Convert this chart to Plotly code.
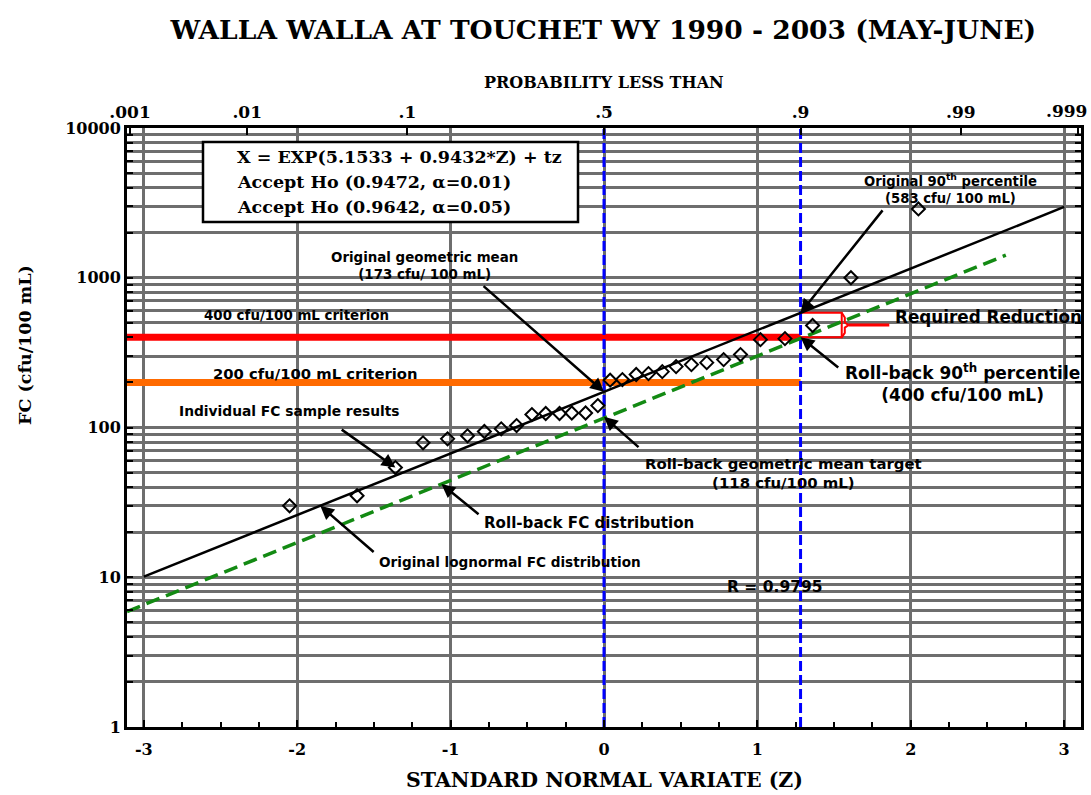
import numpy as np
import plotly.graph_objects as go
from statistics import NormalDist

# ---- data -------------------------------------------------------------
# Individual fecal coliform results, ranked, with their standard normal variate
sample_z = [-2.05, -1.61, -1.36, -1.18, -1.02, -0.89, -0.78, -0.67, -0.57, -0.47,
            -0.38, -0.29, -0.21, -0.12, -0.04, 0.04, 0.12, 0.21, 0.29, 0.38,
            0.47, 0.57, 0.67, 0.78, 0.89, 1.02, 1.18, 1.36, 1.61, 2.05]
sample_fc = [30, 35, 54, 79, 84, 88, 94, 98, 103, 122,
             124, 124, 125, 125, 140, 207, 209, 226, 229, 236,
             255, 263, 271, 284, 307, 386, 392, 480, 1000, 2880]

# Fitted lognormal distribution (end points of the line)
orig_fit_z = [-3.0, 3.0]
orig_fit_fc = [10.1, 2970]

# Roll-back distribution (parallel line through the target geometric mean)
rollback_z = [-3.11, 2.62]
rollback_fc = [5.9, 1415]

# Reference values
orig_geomean = 173
orig_p90 = 583
rollback_geomean = 118
rollback_p90 = 400
criteria_fc = [400, 200]
criteria_colors = ["#ff0000", "#ff6a00"]

# Probability scale along the top
prob_values = [0.001, 0.01, 0.1, 0.5, 0.9, 0.99, 0.999]
prob_labels = [".001", ".01", ".1", ".5", ".9", ".99", ".999"]

z_ticks = [-3, -2, -1, 0, 1, 2, 3]
z_range = [-3.11, 3.11]
fc_decades = [1, 10, 100, 1000, 10000]

# ---- derived positions ---------------------------------------------------
nd = NormalDist()
prob_z = [nd.inv_cdf(p) for p in prob_values]
z50 = nd.inv_cdf(0.5)
z90 = nd.inv_cdf(0.9)

fc_tickvals = [m * d for d in fc_decades[:-1] for m in range(1, 10)] + [fc_decades[-1]]
fc_ticktext = [str(v) if v in fc_decades else "" for v in fc_tickvals]

SERIF = "DejaVu Serif"
SANS = "DejaVu Sans"
GRID = "#6e6e6e"

fig = go.Figure()

# Criterion lines
for fc, col in zip(criteria_fc, criteria_colors):
    fig.add_trace(go.Scatter(x=[z_range[0], z90], y=[fc, fc], mode="lines",
                             line=dict(color=col, width=7), hoverinfo="skip"))

# Required reduction box and brace
zb = 1.55
fig.add_trace(go.Scatter(x=[z90, zb, zb, z90], y=[orig_p90, orig_p90, rollback_p90, rollback_p90],
                         mode="lines", line=dict(color="#ff0000", width=2), hoverinfo="skip"))
mid = np.sqrt(orig_p90 * rollback_p90)
brace_z = [zb, zb + 0.02, zb + 0.02, zb + 0.045, zb + 0.02, zb + 0.02, zb]
brace_fc = [orig_p90, orig_p90 * 0.93, mid * 1.04, mid, mid / 1.04, rollback_p90 * 1.07, rollback_p90]
fig.add_trace(go.Scatter(x=brace_z, y=brace_fc, mode="lines",
                         line=dict(color="#ff0000", width=2), hoverinfo="skip"))
fig.add_trace(go.Scatter(x=[zb + 0.045, 1.86], y=[mid, mid], mode="lines",
                         line=dict(color="#ff0000", width=3), hoverinfo="skip"))

# Vertical markers at the 50th and 90th percentile
for zv in [z50, z90]:
    fig.add_trace(go.Scatter(x=[zv, zv], y=[fc_decades[0], fc_decades[-1]], mode="lines",
                             line=dict(color="#0000ff", width=3, dash="10px,4px"), hoverinfo="skip"))

# Distributions
fig.add_trace(go.Scatter(x=orig_fit_z, y=orig_fit_fc, mode="lines",
                         line=dict(color="black", width=2.5), hoverinfo="skip"))
fig.add_trace(go.Scatter(x=rollback_z, y=rollback_fc, mode="lines",
                         line=dict(color="#138a13", width=3.5, dash="14px,7px"), hoverinfo="skip"))

# Sample results
fig.add_trace(go.Scatter(x=sample_z, y=sample_fc, mode="markers",
                         marker=dict(symbol="diamond-open", size=10, color="black",
                                     line=dict(width=2, color="black"))))

lg = np.log10
annotations = []


def label(text, z, logy, size=13, xanchor="center"):
    annotations.append(dict(x=z, y=logy, xref="x", yref="y", text=text, showarrow=False,
                            xanchor=xanchor, yanchor="middle", align="center",
                            font=dict(family=SANS, size=size, color="black", weight="bold")))


def arrow(z_head, fc_head, z_tail, logy_tail):
    annotations.append(dict(x=z_head, y=lg(fc_head), xref="x", yref="y",
                            ax=z_tail, ay=logy_tail, axref="x", ayref="y",
                            text="", showarrow=True, arrowhead=2, arrowsize=1.1,
                            arrowwidth=2.5, arrowcolor="black", standoff=0))


def rollback_at(z):
    return 10 ** np.interp(z, rollback_z, lg(rollback_fc))


def orig_at(z):
    return 10 ** np.interp(z, orig_fit_z, lg(orig_fit_fc))


label("Original geometric mean<br>(173 cfu/ 100 mL)", -1.17, 3.08, size=13.4)
arrow(z50, orig_geomean, -0.795, 2.953)

label("Original 90<sup>th</sup> percentile<br>(583 cfu/ 100 mL)", 2.26, 3.593, size=13.2)
arrow(z90, orig_p90, 1.824, 3.46)

label("400 cfu/100 mL criterion", -2.003, 2.747, size=13.4)
label("200 cfu/100 mL criterion", -1.883, 2.36, size=14.8)
label("Required Reduction", 1.883, 2.74, size=16.8, xanchor="left")

label("Roll-back 90<sup>th</sup> percentile<br>(400 cfu/100 mL)", 2.335, 2.30, size=17)
arrow(z90, rollback_p90, 1.537, 2.393)

label("Individual FC sample results", -2.052, 2.113, size=13.8)
arrow(sample_z[2], sample_fc[2], -1.72, 1.993)

label("Roll-back geometric mean target<br>(118 cfu/100 mL)", 1.169, 1.693, size=14.9)
arrow(z50, rollback_geomean, 0.235, 1.86)

label("Roll-back FC distribution", -0.101, 1.36, size=15.1)
arrow(-1.06, rollback_at(-1.06), -0.808, 1.413)

label("Original lognormal FC distribution", -0.612, 1.10, size=13.6)
arrow(-1.85, orig_at(-1.85), -1.492, 1.16)

label("R = 0.9795", 1.114, 0.933, size=15.5)

# Equation / test box
box_font = dict(family=SERIF, size=17.5, color="black", weight="bold")
box_lines = ["X = EXP(5.1533 + 0.9432*Z) + tz",
             "Accept Ho (0.9472, \u03b1=0.01)",
             "Accept Ho (0.9642, \u03b1=0.05)"]
for i, t in enumerate(box_lines):
    annotations.append(dict(x=(235 - 127) / 954, y=(727 - 157 - i * 25) / 599,
                            xref="paper", yref="paper",
                            text=t, showarrow=False, xanchor="left", yanchor="middle",
                            font=box_font))

# Last probability label sits at the right edge of the page; keep it inside
top_font = dict(family=SERIF, size=17, color="black", weight="bold")
top_ticktext = prob_labels[:-1] + [""]
annotations.append(dict(x=1.0, y=1.0, xref="paper", yref="paper", text=prob_labels[-1],
                        showarrow=False, xanchor="right", yanchor="bottom", yshift=5,
                        xshift=8, font=top_font))

# Axis titles
annotations.append(dict(x=(604 - 127) / 954, y=(727 - 82) / 599, xref="paper", yref="paper",
                        text="PROBABILITY LESS THAN", showarrow=False,
                        xanchor="center", yanchor="middle",
                        font=dict(family=SERIF, size=16, color="black", weight="bold")))
annotations.append(dict(x=(604 - 127) / 954, y=(727 - 780) / 599, xref="paper", yref="paper",
                        text="STANDARD NORMAL VARIATE (Z)", showarrow=False,
                        xanchor="center", yanchor="middle",
                        font=dict(family=SERIF, size=20.5, color="black", weight="bold")))
annotations.append(dict(x=(25 - 127) / 954, y=(727 - 345) / 599, xref="paper", yref="paper",
                        text="FC (cfu/100 mL)", showarrow=False, textangle=-90,
                        xanchor="center", yanchor="middle",
                        font=dict(family=SERIF, size=17.5, color="black", weight="bold")))

shapes = [dict(type="rect", xref="paper", yref="paper",
               x0=(203 - 127) / 954, x1=(578 - 127) / 954,
               y0=(727 - 222) / 599, y1=(727 - 142) / 599,
               line=dict(color="black", width=2.5), fillcolor="white", layer="above")]

fig.update_layout(
    width=1091, height=795,
    margin=dict(l=127, r=10, t=128, b=68, autoexpand=False),
    plot_bgcolor="white", paper_bgcolor="white",
    showlegend=False,
    title=dict(text="WALLA WALLA AT TOUCHET WY 1990 - 2003 (MAY-JUNE)",
               x=0.553, xanchor="center", y=0.962, yanchor="middle",
               font=dict(family=SERIF, size=26.5, color="black", weight="bold")),
    annotations=annotations,
    shapes=shapes,
    xaxis=dict(range=z_range, tickvals=z_ticks, ticktext=[str(v) for v in z_ticks],
               automargin=False,
               showline=True, linecolor="black", linewidth=3, mirror=False,
               ticks="inside", ticklen=7, tickwidth=2, tickcolor="black", ticklabelstandoff=6,
               minor=dict(dtick=0.25, ticks="inside", ticklen=5, tickwidth=2, showgrid=False),
               showgrid=True, gridcolor=GRID, gridwidth=3, zeroline=False,
               tickfont=dict(family=SERIF, size=16, color="black", weight="bold")),
    xaxis2=dict(overlaying="x", side="top", range=z_range, tickvals=prob_z, ticktext=top_ticktext,
                automargin=False,
                showline=True, linecolor="black", linewidth=3,
                ticks="inside", ticklen=7, tickwidth=2, tickcolor="black",
                showgrid=False, zeroline=False,
                tickfont=top_font),
    yaxis=dict(type="log", range=[0, 4], tickvals=fc_tickvals, ticktext=fc_ticktext,
               automargin=False,
               showline=True, linecolor="black", linewidth=3, mirror="ticks",
               ticks="inside", ticklen=6, tickwidth=2, tickcolor="black",
               showgrid=True, gridcolor=GRID, gridwidth=3, zeroline=False,
               tickfont=dict(family=SERIF, size=16, color="black", weight="bold")),
)

# invisible trace to activate the top probability axis
fig.add_trace(go.Scatter(x=z_range, y=[fc_decades[0], fc_decades[0]], xaxis="x2", mode="lines",
                         line=dict(width=0), hoverinfo="skip", showlegend=False))

fig.write_html("out.html")
